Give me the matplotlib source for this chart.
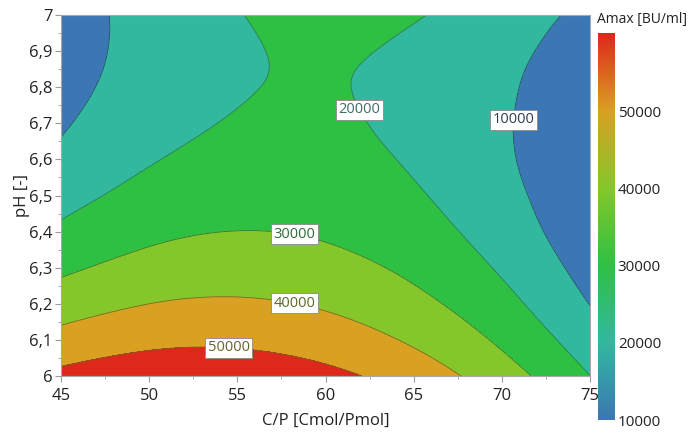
import numpy as np
import matplotlib
matplotlib.use("Agg")
import matplotlib.pyplot as plt
import matplotlib.tri as mtri
from matplotlib.colors import LinearSegmentedColormap, Normalize
from matplotlib.cm import ScalarMappable
from matplotlib.ticker import FuncFormatter, MultipleLocator

plt.rcParams["font.family"] = ["Open Sans", "DejaVu Sans"]

# Grid of the response: C/P ratio (columns) x pH (rows), Amax in BU/ml
cp_ratio = [45, 50, 55, 60, 65, 70, 75]
ph_values = [6.0, 6.1, 6.2, 6.3, 6.4, 6.5, 6.6, 6.7, 6.8, 6.9, 7.0]
amax = [
    [52500, 56100, 56100, 52500, 45300, 34500, 20100],  # pH 6.0
    [43400, 47600, 48200, 45200, 38600, 28300, 14500],  # pH 6.1
    [35300, 40000, 41200, 38800, 32700, 23100, 9800],   # pH 6.2
    [28100, 33400, 35200, 33300, 27900, 18800, 6100],   # pH 6.3
    [21800, 27800, 30100, 28800, 23900, 15400, 3300],   # pH 6.4
    [16600, 23100, 26000, 25300, 21000, 13100, 1500],   # pH 6.5
    [12200, 19300, 22800, 22700, 19000, 11600, 700],    # pH 6.6
    [8900, 16500, 20600, 21100, 17900, 11200, 800],     # pH 6.7
    [6500, 14700, 19400, 20400, 17800, 11700, 1900],    # pH 6.8
    [5000, 13800, 19100, 20700, 18700, 13100, 3900],    # pH 6.9
    [4500, 13900, 19700, 21900, 20500, 15500, 6900],    # pH 7.0
]

levels = [10000, 20000, 30000, 40000, 50000]
fill_colors = ["#3a77b4", "#33b8a0", "#2ec043", "#85c72a", "#d9a022", "#de281c"]
line_colors = ["#2b4a66", "#2f7a6a", "#2a7a34", "#5a7a22", "#7a6020"]
label_colors = ["#2b3d55", "#3d6e68", "#2e6b35", "#556b25", "#6b6325"]
label_spots = [(70.6, 6.71), (61.8, 6.734), (58.2, 6.386), (58.2, 6.194), (54.5, 6.072)]
cbar_range = (10000, 60200)

xs = np.asarray(cp_ratio, float)
ys = np.asarray(ph_values, float)
z = np.asarray(amax, float)

# Smooth the tabulated grid with a cubic interpolant on a unit square,
# then map the refined mesh back to C/P and pH units.
gx, gy = np.meshgrid(np.linspace(0, 1, len(xs)), np.linspace(0, 1, len(ys)))
tri = mtri.Triangulation(gx.ravel(), gy.ravel())
interp = mtri.CubicTriInterpolator(tri, z.ravel(), kind="min_E")
tri_f, z_f = mtri.UniformTriRefiner(tri).refine_field(z.ravel(), triinterpolator=interp, subdiv=4)
tri_xy = mtri.Triangulation(xs[0] + tri_f.x * (xs[-1] - xs[0]),
                            ys[0] + tri_f.y * (ys[-1] - ys[0]),
                            tri_f.triangles)

fig = plt.figure(figsize=(6.89, 4.34), dpi=100)
ax = fig.add_axes([61 / 689, 1 - 376 / 434, 529 / 689, 361 / 434])

fill_levels = [-1e9] + levels + [1e9]
ax.tricontourf(tri_xy, z_f, levels=fill_levels, colors=fill_colors)
cs = ax.tricontour(tri_xy, z_f, levels=levels, colors=line_colors, linewidths=0.6)

labels = ax.clabel(cs, levels, manual=label_spots, inline=False, fmt="%d", fontsize=10.5)
for t in labels:
    lvl = int(t.get_text())
    t.set_rotation(0)
    t.set_color(label_colors[levels.index(lvl)])
    t.set_bbox(dict(facecolor="white", edgecolor="#8a8a8a", linewidth=0.6, pad=1.8))
    t.set_zorder(5)

ax.set_xlim(xs[0], xs[-1])
ax.set_ylim(ys[0], ys[-1])
ax.xaxis.set_major_locator(MultipleLocator(5))
ax.xaxis.set_minor_locator(MultipleLocator(2.5))
ax.yaxis.set_major_locator(MultipleLocator(0.1))
ax.yaxis.set_minor_locator(MultipleLocator(0.05))


def ph_fmt(v, pos):
    s = f"{v:.1f}"
    if s.endswith(".0"):
        s = s[:-2]
    return s.replace(".", ",")


ax.yaxis.set_major_formatter(FuncFormatter(ph_fmt))
ax.tick_params(which="major", length=4, width=0.8, color="#9a9a9a",
               labelsize=12, labelcolor="#222222")
ax.tick_params(axis="x", which="major", pad=5)
ax.tick_params(axis="y", which="major", pad=2)
ax.tick_params(which="minor", length=2.5, width=0.6, color="#9a9a9a")
for sp in ax.spines.values():
    sp.set_color("#a8a8a8")
    sp.set_linewidth(0.8)

ax.set_xlabel("C/P [Cmol/Pmol]", fontsize=12, color="#222222")
ax.set_ylabel("pH [-]", fontsize=12, color="#222222")
ax.xaxis.set_label_coords(0.5, (376 - 421) / 361)
ax.xaxis.label.set_va("center")
ax.yaxis.set_label_coords(-(61 - 22) / 529, 0.5)
ax.yaxis.label.set_va("center")

# Colour scale
cmap = LinearSegmentedColormap.from_list(
    "amax_scale",
    [(0.0, fill_colors[0]), (0.2, fill_colors[1]), (0.4, fill_colors[2]),
     (0.6, fill_colors[3]), (0.8, fill_colors[4]), (1.0, fill_colors[5])])
norm = Normalize(vmin=cbar_range[0], vmax=cbar_range[1])
cax = fig.add_axes([598 / 689, 1 - 420 / 434, 17 / 689, 387 / 434])
cb = fig.colorbar(ScalarMappable(norm=norm, cmap=cmap), cax=cax)
cb.set_ticks(levels)
cb.outline.set_visible(False)
cax.tick_params(length=0, labelsize=11, labelcolor="#222222", pad=2)
fig.text(597 / 689, 1 - 20 / 434, "Amax [BU/ml]", fontsize=10, color="#222222",
         ha="left", va="center")

fig.savefig("out.png", dpi=100)
